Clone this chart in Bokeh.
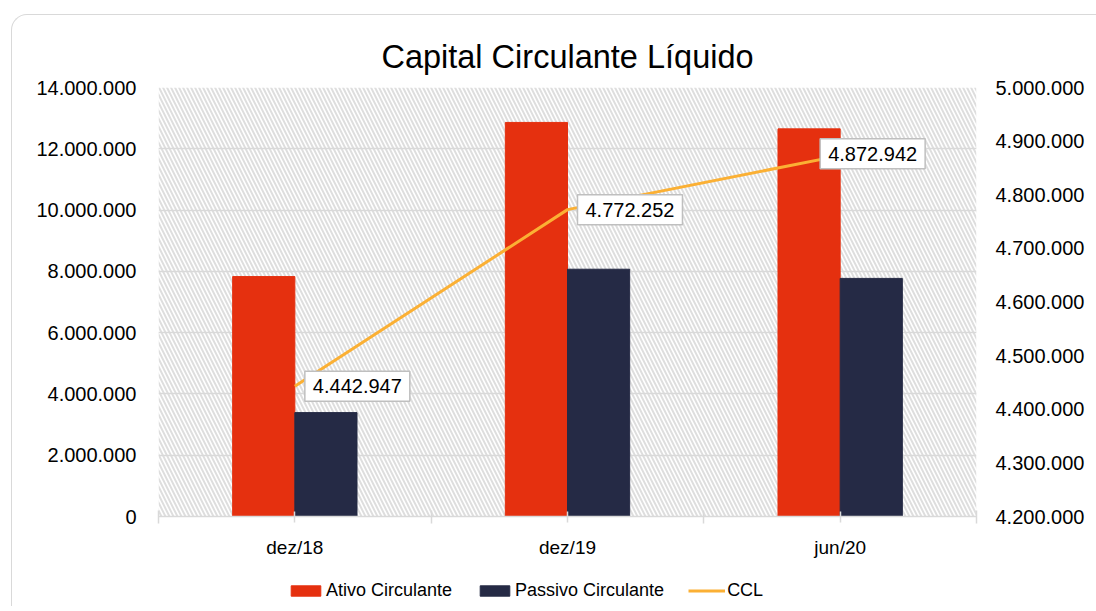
from bokeh.plotting import figure
from bokeh.layouts import column
from bokeh.models import (Range1d, LinearAxis, FixedTicker, CustomJSTickFormatter,
                          BoxAnnotation, Legend, LegendItem, Label, ColumnDataSource)
from bokeh.transform import dodge
from bokeh.embed import file_html
from bokeh.resources import INLINE

# ---- data ----
categories = ["dez/18", "dez/19", "jun/20"]
ativo_circulante = [7_830_000, 12_860_000, 12_650_000]
passivo_circulante = [3_390_000, 8_070_000, 7_770_000]
ccl = [4_442_947, 4_772_252, 4_872_942]
left_ticks = [0, 2_000_000, 4_000_000, 6_000_000, 8_000_000, 10_000_000, 12_000_000, 14_000_000]
right_ticks = [4_200_000, 4_300_000, 4_400_000, 4_500_000, 4_600_000, 4_700_000, 4_800_000, 4_900_000, 5_000_000]
series_names = ["Ativo Circulante", "Passivo Circulante", "CCL"]

FONT = "Liberation Sans"
RED = "#E5300F"
NAVY = "#252A45"
ORANGE = "#FBB034"
GRID = "#d9d9d9"

xpos = [i + 0.5 for i in range(len(categories))]
src = ColumnDataSource(dict(x=xpos, cat=categories, ativo=ativo_circulante,
                            passivo=passivo_circulante, ccl=ccl))

p = figure(width=1085, height=552, output_backend="svg", toolbar_location=None,
           x_range=Range1d(0, len(categories)),
           y_range=Range1d(left_ticks[0], left_ticks[-1]),
           min_border_left=146, min_border_right=121, min_border_top=72, min_border_bottom=51,
           title="Capital Circulante Líquido")
p.outline_line_color = None
p.background_fill_color = "white"
p.border_fill_color = None

p.title.text_font = FONT
p.title.text_font_size = "32.5px"
p.title.text_font_style = "normal"
p.title.text_color = "#000000"
p.title.align = "center"
p.title.standoff = 26
p.title.offset = -6

p.extra_y_ranges = {"ccl": Range1d(right_ticks[0], right_ticks[-1])}

# hatched background
p.add_layout(BoxAnnotation(fill_color="white", fill_alpha=1, line_color=None,
                           hatch_pattern="\\", hatch_color="#dedede", hatch_scale=8,
                           hatch_weight=2, level="image"))

# bars and line
r_ativo = p.vbar(x=dodge("x", -0.114, range=p.x_range), top="ativo", width=0.228,
                 source=src, fill_color=RED, line_color=RED)
r_pass = p.vbar(x=dodge("x", 0.114, range=p.x_range), top="passivo", width=0.228,
                source=src, fill_color=NAVY, line_color=NAVY)
r_ccl = p.line(x="x", y="ccl", source=src, y_range_name="ccl", line_color=ORANGE,
               line_width=3)

# axes
fmt = CustomJSTickFormatter(code="""
    return Math.round(tick).toString().replace(/\\B(?=(\\d{3})+(?!\\d))/g, ".");
""")
p.yaxis.ticker = FixedTicker(ticks=left_ticks)
p.yaxis.formatter = fmt
ax_r = LinearAxis(y_range_name="ccl", ticker=FixedTicker(ticks=right_ticks), formatter=fmt)
p.add_layout(ax_r, "right")
for ax, so in ((p.yaxis[0], 16), (ax_r, 13)):
    ax.axis_line_color = None
    ax.major_tick_line_color = None
    ax.minor_tick_line_color = None
    ax.major_label_text_font = FONT
    ax.major_label_text_font_size = "20px"
    ax.major_label_text_color = "#000000"
    ax.major_label_standoff = so

xa = p.xaxis[0]
xa.ticker = FixedTicker(ticks=xpos, minor_ticks=[float(i) for i in range(len(categories) + 1)])
xa.major_label_overrides = {x: c for x, c in zip(xpos, categories)}
xa.axis_line_color = GRID
xa.axis_line_width = 1.5
xa.major_tick_out = 6
xa.major_tick_in = 5
xa.major_tick_line_color = GRID
xa.major_tick_line_width = 1.5
xa.minor_tick_out = 7
xa.minor_tick_in = 6
xa.minor_tick_line_color = GRID
xa.minor_tick_line_width = 1.5
xa.major_label_text_font = FONT
xa.major_label_text_font_size = "19px"
xa.major_label_text_color = "#000000"
xa.major_label_standoff = 13

p.xgrid.grid_line_color = None
p.ygrid.ticker = FixedTicker(ticks=left_ticks)
p.ygrid.grid_line_color = GRID
p.ygrid.grid_line_width = 1.5

# data labels
label_dx = [10, 10, -20]
label_dy = [0, 0, 2]
for x, v, dx, dy in zip(xpos, ccl, label_dx, label_dy):
    p.add_layout(Label(x=x, y=v, y_range_name="ccl", x_offset=dx, y_offset=dy,
                       text=f"{v:,}".replace(",", "."), text_font=FONT,
                       text_font_size="20px", text_color="#000000",
                       text_align="left", text_baseline="middle",
                       background_fill_color="white", border_line_color="#bfbfbf",
                       border_line_width=1.5, padding=8))

# legend strip (separate small figure below the chart; its proxy glyphs are hidden)
lg = figure(width=1085, height=39, output_backend="svg", toolbar_location=None,
            x_range=Range1d(0, len(categories)), y_range=Range1d(0, 1),
            x_axis_type=None, y_axis_type=None,
            min_border_left=0, min_border_right=0, min_border_top=0, min_border_bottom=0)
lg.outline_line_color = None
lg.grid.visible = False
lg.background_fill_color = None
lg.border_fill_color = None
g1 = lg.vbar(x="x", top="ativo", width=0.1, source=src, fill_color=RED, line_color=RED, visible=False)
g2 = lg.vbar(x="x", top="passivo", width=0.1, source=src, fill_color=NAVY, line_color=NAVY, visible=False)
g3 = lg.line(x="x", y="ccl", source=src, line_color=ORANGE, line_width=3, visible=False)
legend = Legend(items=[LegendItem(label=n, renderers=[r]) for n, r in zip(series_names, [g1, g2, g3])],
                orientation="horizontal", location=(129, 5), click_policy="none",
                glyph_width=37, glyph_height=13, label_standoff=2, spacing=24,
                label_text_font=FONT, label_text_font_size="18px",
                label_text_color="#000000", border_line_color=None,
                background_fill_alpha=0, padding=0, margin=0)
lg.add_layout(legend)

layout = column(p, lg, spacing=0, margin=(14, 0, 0, 11))
layout.styles = {"border-top": "1.5px solid #d9d9d9", "border-left": "1.5px solid #d9d9d9",
                 "border-top-left-radius": "16px", "background": "white"}

open("out.html", "w").write(file_html(layout, INLINE))
